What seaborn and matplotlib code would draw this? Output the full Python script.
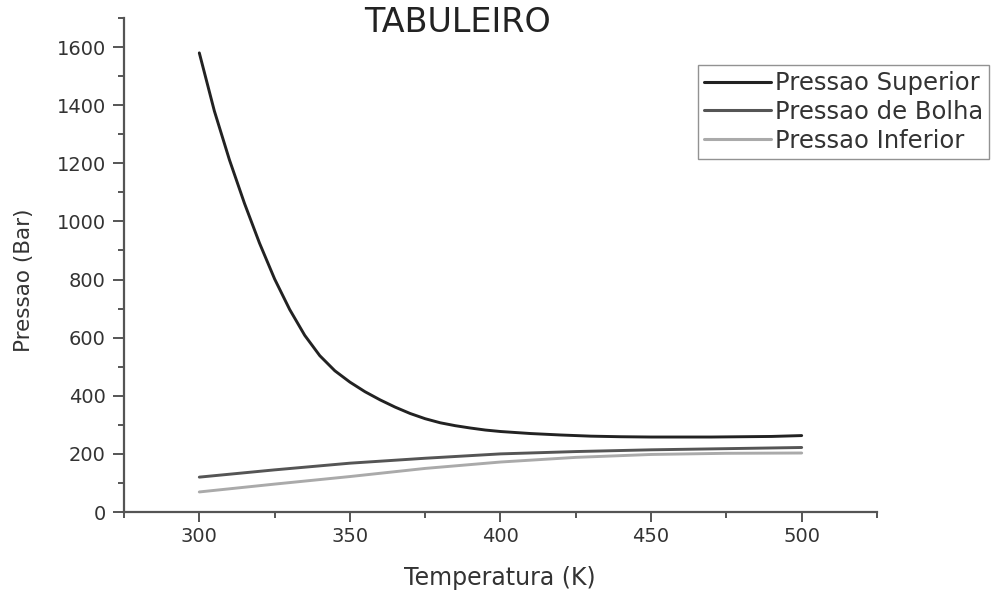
import numpy as np
import pandas as pd
import matplotlib
matplotlib.use("Agg")
import matplotlib.pyplot as plt
from matplotlib.ticker import MultipleLocator
import seaborn as sns

# ---- data ----
temp_sup = [300, 305, 310, 315, 320, 325, 330, 335, 340, 345, 350, 355, 360, 365, 370,
            375, 380, 385, 390, 395, 400, 410, 420, 430, 440, 450, 460, 470, 480, 490, 500]
p_sup = [1580, 1380, 1212, 1062, 925, 802, 697, 608, 538, 486, 447, 414, 386, 361, 339,
         321, 307, 297, 289, 282, 277, 270, 265, 261, 259, 258, 258, 258, 259, 260, 263]

temp_low = [300, 325, 350, 375, 400, 425, 450, 475, 500]
p_bolha = [120, 145, 168, 185, 200, 208, 214, 218, 222]
p_inf = [69, 96, 122, 150, 172, 188, 198, 202, 203]

series_names = ["Pressao Superior", "Pressao de Bolha", "Pressao Inferior"]
colors = ["#222222", "#555555", "#aaaaaa"]

title = "TABULEIRO"
xlabel = "Temperatura (K)"
ylabel = "Pressao (Bar)"

df = pd.concat([
    pd.DataFrame({"T": temp_sup, "P": p_sup, "serie": series_names[0]}),
    pd.DataFrame({"T": temp_low, "P": p_bolha, "serie": series_names[1]}),
    pd.DataFrame({"T": temp_low, "P": p_inf, "serie": series_names[2]}),
])

sns.set_style("ticks")
plt.rcParams["font.family"] = ["DejaVu Sans"]

fig = plt.figure(figsize=(10.02, 5.90), dpi=100)
ax = fig.add_axes([124 / 1002, 1 - 512 / 590, (877 - 124) / 1002, (512 - 18) / 590])

sns.lineplot(data=df, x="T", y="P", hue="serie", palette=dict(zip(series_names, colors)),
             linewidth=2.1, ax=ax, sort=False, estimator=None)

ax.set_xlim(275, 525)
ax.set_ylim(0, 1700)
ax.xaxis.set_major_locator(MultipleLocator(50))
ax.xaxis.set_minor_locator(MultipleLocator(25))
ax.set_yticks(np.arange(0, 1601, 200))
ax.yaxis.set_minor_locator(MultipleLocator(100))

txtc = "#333333"
spc = "#555555"
for s in ["top", "right"]:
    ax.spines[s].set_visible(False)
for s in ["left", "bottom"]:
    ax.spines[s].set_color(spc)
    ax.spines[s].set_linewidth(1.6)

ax.tick_params(axis="x", which="major", direction="out", length=7, width=1.4,
               color=spc, labelsize=14, labelcolor=txtc, pad=4)
ax.tick_params(axis="x", which="minor", direction="out", length=4, width=1.4, color=spc)
ax.tick_params(axis="y", which="major", direction="out", length=8, width=1.4,
               color=spc, labelsize=14, labelcolor=txtc, pad=5)
ax.tick_params(axis="y", which="minor", direction="out", length=4.5, width=1.4, color=spc)

ax.set_xlabel(xlabel, fontsize=17, color=txtc)
ax.xaxis.set_label_coords(500 / 1002, 1 - 566 / 590, transform=fig.transFigure)
ax.set_ylabel(ylabel, fontsize=15.5, color=txtc)
ax.yaxis.set_label_coords(34 / 1002, 1 - 280 / 590, transform=fig.transFigure)

fig.text(458 / 1002, 1 - 23 / 590, title, fontsize=24, color="#222222",
         ha="center", va="center")

handles, labels = ax.get_legend_handles_labels()
leg = ax.legend(handles, labels, loc="upper left",
                bbox_to_anchor=(698 / 1002, 1 - 65 / 590), bbox_transform=fig.transFigure,
                fontsize=17.5, frameon=True, fancybox=False, edgecolor="#777777",
                handlelength=2.75, handletextpad=0.15, labelspacing=0.2,
                borderpad=0.25, borderaxespad=0)
leg.get_frame().set_linewidth(1.0)
for t in leg.get_texts():
    t.set_color(txtc)
for h in leg.get_lines():
    h.set_linewidth(2.2)

fig.savefig("out.png", dpi=100)
